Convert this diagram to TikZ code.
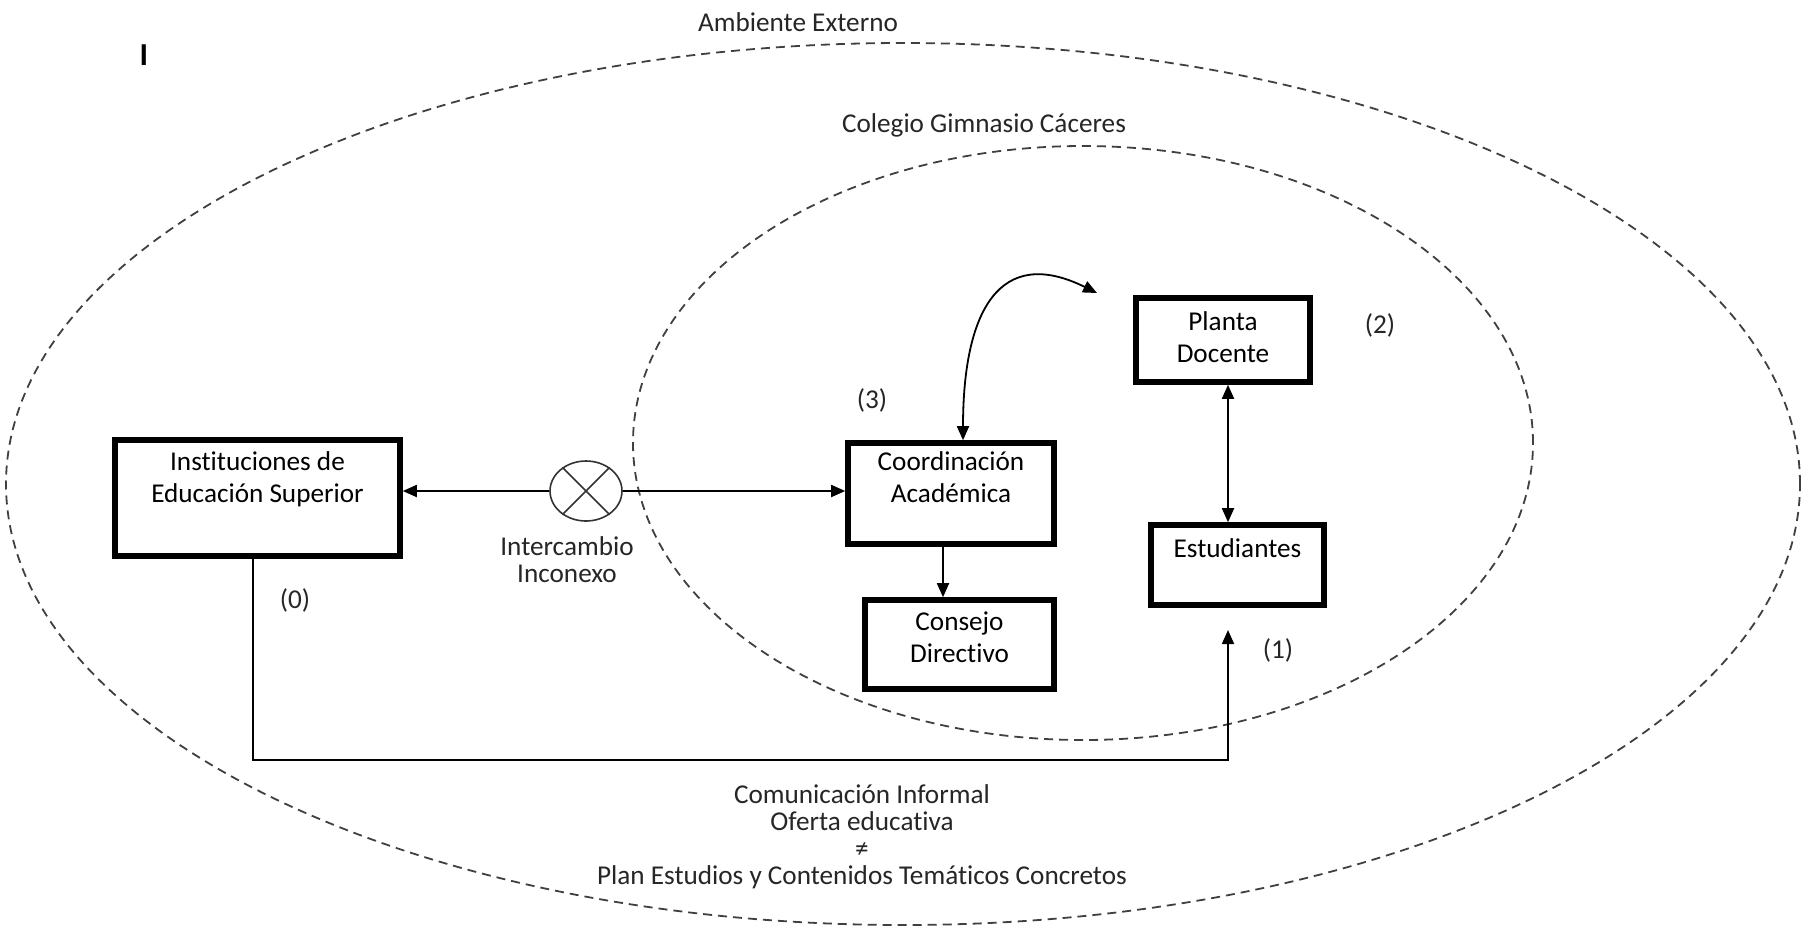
\documentclass[tikz,border=0pt]{standalone}
\usepackage{fontspec}
\setmainfont{Carlito}[Ligatures=NoCommon]
\usetikzlibrary{arrows.meta,shapes.geometric,calc}
\newcommand\bxcontent[4]{\begin{minipage}[c][#2][t]{#1}\centering\fontsize{13.6pt}{16pt}\selectfont\vspace*{#3}\rule{0pt}{10.5pt}#4\end{minipage}}
\tikzset{
  blockbox/.style={draw=black, line width=2.8pt, inner sep=0pt, rectangle},
  plain/.style={font=\fontsize{13.6pt}{16pt}\selectfont, text=black!85, inner sep=1pt},
  dashring/.style={draw=black!75, line width=0.9pt, dash pattern=on 4.5pt off 3pt},
  conn/.style={draw=black, line width=0.9pt},
  arr/.style={conn, -{Triangle[length=7pt,width=6pt]}},
  darr/.style={conn, {Triangle[length=7pt,width=6pt]}-{Triangle[length=7pt,width=6pt]}},
}
\begin{document}
\begin{tikzpicture}[x=0.5pt,y=-0.5pt]
\useasboundingbox (0,0) rectangle (1804,933);
\fill[white] (0,0) rectangle (1804,933);

% rings
\draw[dashring] (903,484) ellipse [x radius=448.5pt, y radius=220.5pt];
\draw[dashring] (1083,443) ellipse [x radius=225pt, y radius=148.5pt];

% titles
\node[plain] (amb) at (798,22) {Ambiente Externo};
\node[plain] (col) at (984,125) {Colegio Gimnasio Cáceres};
\node[plain, font=\fontsize{16pt}{18pt}\selectfont\bfseries, text=black] (mark) at (144,55) {I};

% boxes
\node[blockbox] (inst) at (257.5,498) {\bxcontent{142.5pt}{58pt}{4.5pt}{Instituciones de\\Educación Superior}};
\node[blockbox] (coord) at (951,493.5) {\bxcontent{103pt}{50.5pt}{3pt}{Coordinación\\Académica}};
\node[blockbox] (consejo) at (959.5,644.5) {\bxcontent{94.5pt}{44.5pt}{4.5pt}{Consejo\\Directivo}};
\node[blockbox] (planta) at (1223,340) {\bxcontent{87pt}{42pt}{5.5pt}{Planta\\Docente}};
\node[blockbox] (estud) at (1237.5,565) {\bxcontent{86.5pt}{40pt}{5.5pt}{Estudiantes}};

% summing junction
\node[ellipse, draw=black!80, line width=0.8pt, minimum width=36pt, minimum height=30pt, inner sep=0pt] (xc) at (586,491) {};
\draw[black!80, line width=0.8pt] (xc.45) -- (xc.225) (xc.135) -- (xc.315);

% labels
\node[plain] (l3) at (872,400) {(3)};
\node[plain] (l2) at (1380,325) {(2)};
\node[plain] (l1) at (1278,650) {(1)};
\node[plain] (l0) at (295,600) {(0)};
\node[plain, align=center, font=\fontsize{13.6pt}{13.5pt}\selectfont] (inter) at (567,560) {Intercambio\\Inconexo};
\node[plain, align=center, font=\fontsize{13.6pt}{13.5pt}\selectfont] (bottomtxt) at (862,837) {Comunicación Informal\\Oferta educativa\\≠\\Plan Estudios y Contenidos Temáticos Concretos};

% connectors
\draw[arr] (xc.west) -- (xc.west -| inst.east);
\draw[arr] (xc.east) -- (xc.east -| coord.west);
\draw[arr] ([xshift=-4pt]coord.south) -- ([xshift=-4pt]coord.south |- consejo.north);
\draw[darr] ([xshift=2.5pt]planta.south) -- ([xshift=2.5pt]planta.south |- estud.north);

\coordinate (fbend) at (1228,630);
\coordinate (fblow) at (253,760);
\draw[arr] ([xshift=-2.25pt]inst.south) -- (fblow) -- (fbend |- fblow) -- (fbend);

\coordinate (ctop) at (1097,293);
\draw[darr] (ctop) .. controls (1000,245) and (963,310) .. ([xshift=6pt]coord.north);
\end{tikzpicture}
\end{document}
